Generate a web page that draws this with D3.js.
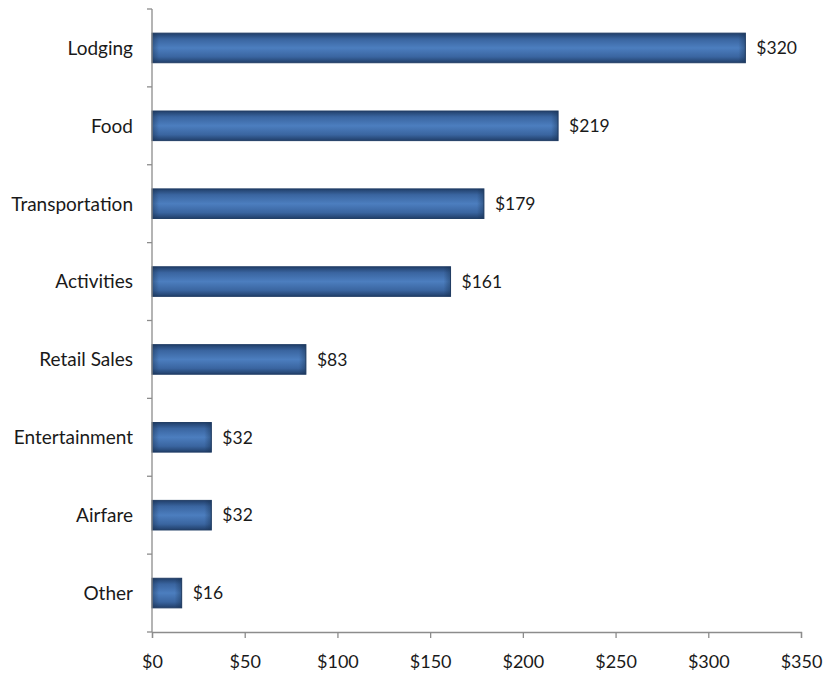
<!DOCTYPE html>
<html>
<head>
<meta charset="utf-8">
<script src="https://cdn.jsdelivr.net/npm/d3@7"></script>
<style>
  html, body { margin: 0; padding: 0; background: #fff; }
  svg { display: block; }
  text { font-family: Lato, "Open Sans", sans-serif; fill: #1a1a1a; }
</style>
</head>
<body>
<svg id="chart" width="825" height="681"></svg>
<script>
// Spending by category (dollars)
const categories = ["Lodging", "Food", "Transportation", "Activities", "Retail Sales", "Entertainment", "Airfare", "Other"];
const values = [320, 219, 179, 161, 83, 32, 32, 16];
const xTicks = [0, 50, 100, 150, 200, 250, 300, 350];

const svg = d3.select("#chart");
const margin = { left: 152, right: 24, top: 9, bottom: 49 };
const W = 825, H = 681;

const x = d3.scaleLinear().domain([0, 350]).range([margin.left, W - margin.right]);
const y = d3.scaleBand().domain(categories).range([margin.top, H - margin.bottom]).paddingInner(0.62).paddingOuter(0.31);

// Bar fill: darker along the top and bottom edges, lighter through the middle
const defs = svg.append("defs");
const grad = defs.append("linearGradient").attr("id", "barGrad").attr("x1", 0).attr("y1", 0).attr("x2", 0).attr("y2", 1);
[[0, "#213f6a"], [0.2, "#3a65a0"], [0.5, "#4c7ebf"], [0.8, "#3a65a0"], [1, "#213f6a"]]
  .forEach(([o, c]) => grad.append("stop").attr("offset", o).attr("stop-color", c));

const bars = svg.append("g");
categories.forEach((c, i) => {
  const x0 = x(0), x1 = x(values[i]);
  const w = x1 - x0;
  // soft darkening towards both bar ends
  const e = Math.min(0.45, 7 / w);
  const side = defs.append("linearGradient").attr("id", "side" + i).attr("x1", 0).attr("y1", 0).attr("x2", 1).attr("y2", 0);
  [[0, 0.45], [e, 0], [1 - e, 0], [1, 0.45]]
    .forEach(([o, a]) => side.append("stop").attr("offset", o).attr("stop-color", "#17304f").attr("stop-opacity", a));

  bars.append("rect")
    .attr("x", x0).attr("y", y(c))
    .attr("width", w).attr("height", y.bandwidth())
    .attr("fill", "url(#barGrad)")
    .attr("stroke", "#223e66").attr("stroke-width", 1);
  bars.append("rect")
    .attr("x", x0).attr("y", y(c))
    .attr("width", w).attr("height", y.bandwidth())
    .attr("fill", `url(#side${i})`);
  // value label
  svg.append("text")
    .attr("x", x1 + 11).attr("y", y(c) + y.bandwidth() / 2)
    .attr("dy", "0.36em")
    .attr("font-size", 17.5)
    .text("$" + values[i]);
});

// Y axis: line plus small ticks between categories
const axisColor = "#8c8c8c";
svg.append("line")
  .attr("x1", x(0)).attr("x2", x(0))
  .attr("y1", margin.top).attr("y2", H - margin.bottom)
  .attr("stroke", axisColor).attr("stroke-width", 1.3);
const step = y.step();
for (let i = 0; i <= categories.length; i++) {
  const yy = margin.top + i * step;
  svg.append("line").attr("x1", x(0) - 5).attr("x2", x(0)).attr("y1", yy).attr("y2", yy)
    .attr("stroke", axisColor).attr("stroke-width", 1.3);
}
categories.forEach(c => {
  svg.append("text")
    .attr("x", x(0) - 19).attr("y", y(c) + y.bandwidth() / 2)
    .attr("dy", "0.36em").attr("text-anchor", "end")
    .attr("font-size", 19)
    .text(c);
});

// X axis
const xAxis = d3.axisBottom(x).tickValues(xTicks).tickSize(6).tickPadding(17).tickFormat(d => "$" + d);
const gx = svg.append("g").attr("transform", `translate(0,${H - margin.bottom})`).call(xAxis);
gx.select(".domain").attr("stroke", axisColor).attr("stroke-width", 1.3);
gx.selectAll(".tick line").attr("stroke", axisColor).attr("stroke-width", 1.3);
gx.selectAll(".tick text").attr("font-size", 18).attr("font-family", "Lato, 'Open Sans', sans-serif").attr("fill", "#1a1a1a");
</script>
</body>
</html>
